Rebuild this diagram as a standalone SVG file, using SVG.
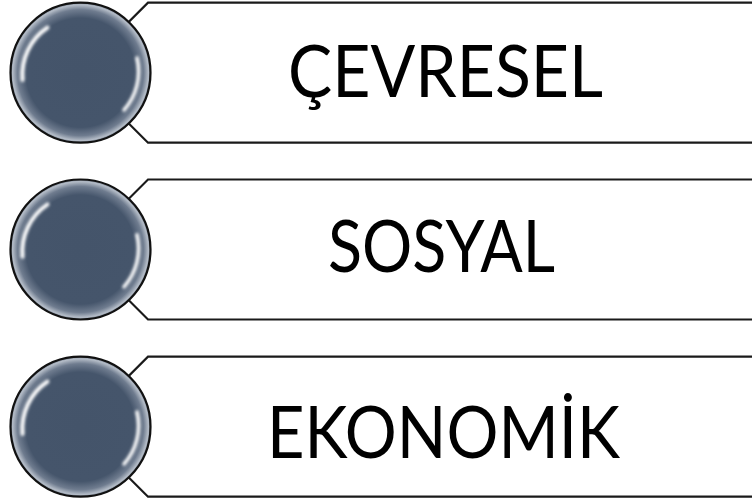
<svg xmlns="http://www.w3.org/2000/svg" width="752" height="503" viewBox="0 0 752 503">
  <style>
    .box { fill: #ffffff; stroke: #1a1a1a; stroke-width: 2.2; stroke-linejoin: miter; }
    .ball { fill: url(#ballGrad); stroke: #111111; stroke-width: 2.2; }
    .hl { fill: none; stroke: #ffffff; stroke-linecap: round; filter: url(#soft); }
    .label { font-family: "Lato", "Liberation Sans", sans-serif; font-size: 72px; fill: #000000; text-anchor: middle; }
  </style>
  <defs>
    <radialGradient id="ballGrad" cx="0.5" cy="0.5" r="0.5">
      <stop offset="0" stop-color="#44546a"/>
      <stop offset="0.78" stop-color="#45556b"/>
      <stop offset="0.9" stop-color="#6f7c8f"/>
      <stop offset="0.97" stop-color="#b4bcc7"/>
      <stop offset="1" stop-color="#7a8595"/>
    </radialGradient>
    <filter id="soft" x="-50%" y="-50%" width="200%" height="200%">
      <feGaussianBlur stdDeviation="1.6"/>
    </filter>
  </defs>

  <g id="connectors"></g>

  <g id="node-cevresel">
    <polygon class="box" points="148,2.7 760,2.7 760,142.7 148,142.7 78,72.7"/>
    <circle class="ball" cx="80.5" cy="72.7" r="70"/>
    <path class="hl" stroke-width="4" d="M 47.5,27.5 A 57 57 0 0 0 22.5,80"/>
    <path class="hl" stroke-width="3.5" d="M 137,58 A 58 58 0 0 1 124,110"/>
    <text class="label" x="445.5" y="96.7" textLength="315" lengthAdjust="spacingAndGlyphs">ÇEVRESEL</text>
  </g>

  <g id="node-sosyal">
    <polygon class="box" points="148,179.5 760,179.5 760,319.5 148,319.5 78,249.5"/>
    <circle class="ball" cx="80.5" cy="249.5" r="70"/>
    <path class="hl" stroke-width="4" d="M 47.5,204.3 A 57 57 0 0 0 22.5,256.8"/>
    <path class="hl" stroke-width="3.5" d="M 137,234.8 A 58 58 0 0 1 124,286.8"/>
    <text class="label" x="441.5" y="271.7" textLength="227" lengthAdjust="spacingAndGlyphs">SOSYAL</text>
  </g>

  <g id="node-ekonomik">
    <polygon class="box" points="148,356.7 760,356.7 760,496.7 148,496.7 78,426.7"/>
    <circle class="ball" cx="80.5" cy="426.7" r="70"/>
    <path class="hl" stroke-width="4" d="M 47.5,381.5 A 57 57 0 0 0 22.5,434"/>
    <path class="hl" stroke-width="3.5" d="M 137,412 A 58 58 0 0 1 124,464"/>
    <text class="label" x="443.5" y="458.3" textLength="353" lengthAdjust="spacingAndGlyphs">EKONOMİK</text>
  </g>
</svg>
